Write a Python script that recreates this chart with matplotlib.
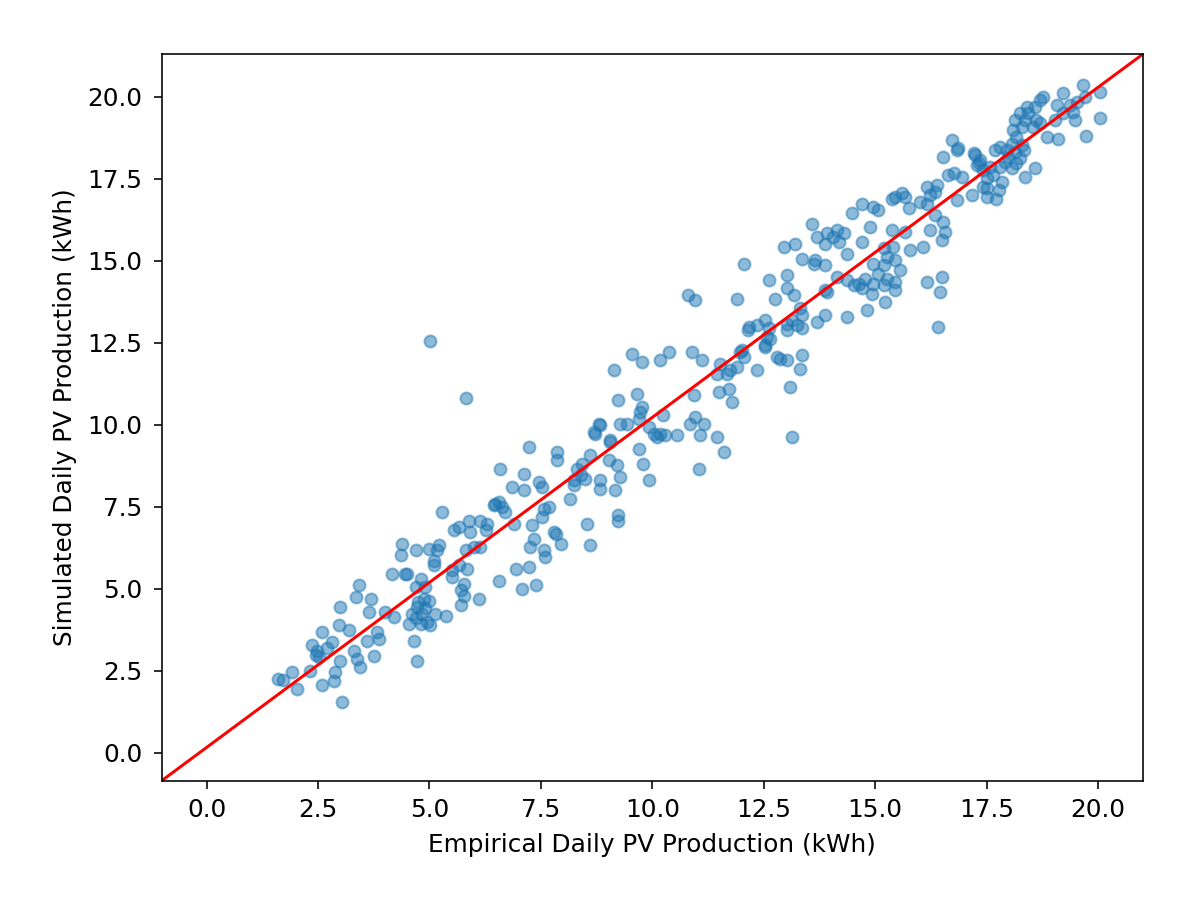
import matplotlib
matplotlib.use("Agg")
import matplotlib.pyplot as plt
import numpy as np

# Empirical (x) and simulated (y) daily PV production, kWh
empirical = [
    1.60, 1.72, 1.92, 2.03, 2.33, 2.37, 2.48, 2.52, 2.59, 2.59, 2.82, 2.85, 2.89, 2.97, 3.00, 3.00,
    3.04, 3.19, 3.30, 3.34, 3.42, 3.45, 3.38, 3.60, 3.68, 3.64, 3.75, 3.83, 3.87, 4.01, 4.20, 4.16,
    4.46, 4.35, 4.65, 4.72, 2.45, 2.70,
    5.28, 4.39, 4.69, 4.98, 5.21, 5.17, 5.10, 5.10, 4.50, 4.80, 4.69, 4.91, 4.87, 4.98, 4.72, 4.61,
    4.84, 4.54, 4.80, 5.02, 5.13, 5.36, 4.70, 4.90, 4.95, 4.75,
    5.54, 5.66, 5.88, 5.92, 5.81, 6.00, 6.14, 5.66, 5.51, 5.84, 5.51, 5.77, 5.70, 5.77, 5.70, 6.11,
    6.14, 6.29, 6.26, 6.44, 6.56, 6.63, 6.70, 6.56, 6.89, 6.93, 7.23, 7.08, 7.38, 6.85, 7.11, 7.30,
    7.34, 7.26, 7.56, 7.60, 7.79, 7.94, 8.16, 8.24,
    7.23, 7.86, 7.86, 6.59, 7.11, 7.45, 7.52, 6.48, 7.56, 7.68, 7.52, 8.31, 8.42, 8.24, 8.61, 8.39,
    8.50, 8.83, 8.83, 9.17, 8.72, 8.83, 9.06, 9.02, 9.21, 9.28, 9.28, 9.69, 9.80, 9.92, 9.24, 9.24,
    8.54, 8.61, 7.83, 10.03, 10.18, 10.55, 9.92, 9.43,
    9.13, 9.54, 9.77, 10.18, 10.37, 10.89, 11.11, 9.24, 9.65, 9.77, 9.73, 9.69, 8.80, 8.69, 10.25,
    10.10, 10.29, 10.93, 10.96, 10.85, 11.15, 11.08, 11.45, 11.60, 11.04, 9.06, 11.45, 11.52, 11.67,
    11.49, 11.71, 11.79, 11.90, 11.97, 12.05, 12.35, 12.15, 12.53, 12.80, 12.57,
    12.05, 10.81, 10.96, 11.90, 12.61, 13.02, 12.76, 13.02, 13.17, 13.32, 13.36, 13.13, 12.95, 13.21,
    13.36, 13.58, 13.62, 13.69, 13.65, 13.88, 13.92, 14.06, 14.14, 14.29, 14.18, 13.88, 14.36, 14.48,
    14.70, 14.70, 14.89, 12.16, 12.35, 12.53, 12.61, 12.53, 12.65, 13.02, 13.02, 13.24, 13.36, 12.87,
    13.02, 13.36, 13.32, 11.75, 13.09, 13.13, 13.69, 13.88, 13.92, 14.36, 14.81, 14.36, 12.01,
    16.53, 16.83, 17.21, 17.32, 16.64, 16.76, 16.94, 16.16, 16.38, 16.35, 16.23, 16.01, 16.16, 16.83,
    17.17, 17.50, 16.35, 16.53, 16.57, 16.49, 16.23, 15.45, 15.60, 15.67, 15.37, 15.75, 14.96, 15.07,
    15.37, 15.67, 16.08, 15.78, 15.19, 15.26, 15.41, 15.45, 15.56, 15.19, 14.96, 15.07, 15.26, 15.45,
    15.45, 15.19, 14.96, 14.78, 14.63, 14.52, 14.70, 14.92, 15.22, 14.14, 13.88, 16.16, 16.49, 16.46,
    16.42,
    19.67, 20.04, 19.22, 18.77, 18.70, 18.40, 18.59, 19.07, 19.37, 19.52, 19.70, 18.25, 18.44, 18.36,
    18.14, 18.62, 18.10, 18.29, 18.55, 18.70, 19.04, 19.22, 19.45, 19.48, 18.85, 19.11, 18.17, 18.06,
    18.29, 17.80, 17.69, 17.95, 18.14, 18.33, 17.99, 18.25, 17.91, 18.17, 17.80, 18.06, 18.59, 18.36,
    16.72, 16.87, 17.24, 17.35, 17.28, 17.43, 17.58, 17.65, 17.50, 17.84, 17.77, 17.43, 17.50, 17.72,
    19.73, 20.04,
    5.02, 5.83,
]
simulated = [
    2.25, 2.22, 2.45, 1.94, 2.50, 3.27, 3.11, 2.91, 3.67, 2.05, 3.37, 2.20, 2.45, 3.88, 4.44, 2.81,
    1.54, 3.73, 3.11, 4.74, 5.10, 2.61, 2.86, 3.42, 4.69, 4.28, 2.96, 3.67, 3.47, 4.28, 4.13, 5.46,
    5.46, 6.02, 3.42, 2.81, 2.98, 3.20,
    7.34, 6.37, 6.17, 6.22, 6.32, 6.17, 5.86, 5.71, 5.46, 5.30, 5.05, 5.05, 4.69, 4.64, 4.44, 4.24,
    4.24, 3.93, 3.93, 3.88, 4.24, 4.18, 4.10, 4.40, 4.00, 4.60,
    6.78, 6.88, 7.08, 6.73, 6.17, 6.27, 6.27, 5.71, 5.56, 5.61, 5.35, 5.15, 4.95, 4.79, 4.49, 4.69,
    7.08, 6.98, 6.78, 7.54, 7.64, 7.49, 7.34, 5.25, 6.98, 5.61, 5.66, 5.00, 5.10, 8.10, 8.00, 6.93,
    6.52, 6.27, 6.17, 5.96, 6.73, 6.37, 7.74, 8.15,
    9.32, 9.17, 8.92, 8.66, 8.51, 8.25, 8.10, 7.59, 7.44, 7.49, 7.18, 8.66, 8.81, 8.31, 9.07, 8.46,
    8.36, 8.31, 8.05, 8.00, 9.73, 9.98, 9.47, 8.92, 8.76, 8.41, 10.03, 9.27, 8.81, 8.31, 7.24, 7.08,
    6.98, 6.32, 6.68, 9.73, 9.73, 9.68, 9.93, 10.03,
    11.66, 12.17, 11.92, 11.97, 12.22, 12.22, 11.97, 10.75, 10.95, 10.54, 10.39, 10.19, 10.03, 9.78, 10.29,
    9.63, 9.68, 10.90, 10.24, 10.03, 10.03, 9.68, 9.63, 9.17, 8.66, 9.53, 11.56, 11.87, 11.56,
    11.00, 11.10, 10.70, 11.77, 12.22, 12.07, 11.66, 12.89, 12.43, 12.07, 12.68,
    14.92, 13.95, 13.80, 13.85, 14.41, 14.56, 13.85, 14.16, 13.95, 13.55, 13.34, 13.19, 15.43, 15.53,
    15.07, 16.14, 14.92, 15.74, 15.02, 14.87, 15.84, 15.74, 15.94, 15.84, 15.58, 15.53, 15.22, 16.45,
    16.75, 15.58, 16.04, 12.99, 13.04, 13.19, 12.94, 12.38, 12.63, 13.09, 12.89, 13.04, 12.94, 12.02,
    11.97, 12.12, 11.71, 11.66, 11.15, 9.63, 13.14, 13.34, 14.06, 13.29, 13.49, 14.41, 12.27,
    18.18, 18.38, 18.28, 17.98, 17.62, 17.67, 17.57, 17.26, 17.31, 17.11, 17.01, 16.80, 16.75, 16.86,
    17.01, 17.21, 16.40, 16.19, 15.89, 15.63, 15.94, 16.96, 17.06, 16.96, 16.90, 16.60, 16.65, 16.55,
    15.94, 15.89, 15.43, 15.33, 15.38, 15.12, 15.43, 15.02, 14.72, 14.87, 14.92, 14.61, 14.46, 14.36,
    14.11, 14.26, 14.31, 14.46, 14.31, 14.26, 14.16, 14.00, 13.75, 14.51, 14.11, 14.36, 14.51, 14.06,
    12.99,
    20.37, 20.16, 20.11, 20.01, 19.91, 19.70, 19.70, 19.75, 19.75, 19.85, 20.01, 19.50, 19.50, 19.30,
    19.30, 19.30, 18.99, 19.09, 19.09, 19.20, 19.30, 19.50, 19.55, 19.30, 18.78, 18.73, 18.78, 18.58,
    18.53, 18.48, 18.38, 18.38, 18.33, 18.38, 18.18, 18.13, 18.03, 17.98, 17.87, 17.82, 17.82, 17.57,
    18.69, 18.43, 18.23, 18.08, 17.92, 17.77, 17.87, 17.62, 17.52, 17.41, 17.16, 17.26, 16.96, 16.90,
    18.81, 19.36,
    12.55, 10.81,
]

x_limits = (-1.01, 21.01)
y_limits = (-0.855, 21.31)
x_label = "Empirical Daily PV Production (kWh)"
y_label = "Simulated Daily PV Production (kWh)"

plt.rcParams["font.family"] = "DejaVu Sans"
plt.rcParams["font.size"] = 12.4

fig = plt.figure(figsize=(1200 / 144, 911 / 144), dpi=144)
ax = fig.add_axes([0.1347, 0.1430, 0.8178, 0.7977])

ax.scatter(empirical, simulated, s=36, alpha=0.5, color="#1f77b4")
ax.set_xlim(*x_limits)
ax.set_ylim(*y_limits)
ax.plot(ax.get_xlim(), ax.get_ylim(), color="red", linewidth=1.5)
ax.set_xlim(*x_limits)
ax.set_ylim(*y_limits)

ax.set_xticks(np.arange(0, 20.01, 2.5))
ax.set_yticks(np.arange(0, 20.01, 2.5))
ax.tick_params(axis="x", length=4, pad=4.5)
ax.tick_params(axis="y", length=4, pad=5.5)
ax.set_xlabel(x_label, labelpad=5.5)
ax.set_ylabel(y_label, labelpad=5.5)

fig.savefig("out.png", dpi=144)
